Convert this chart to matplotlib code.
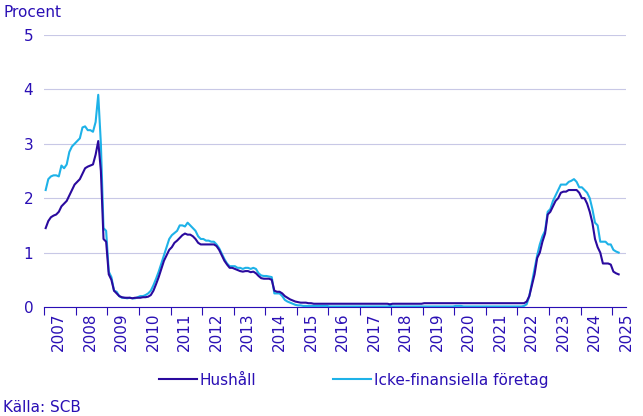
import matplotlib
matplotlib.use("Agg")
import matplotlib.pyplot as plt
import numpy as np

start_year = 2007
hushall = [
 1.45,1.58,1.65,1.68,1.70,1.75,1.85,1.90,1.95,2.05,2.15,2.25,   # 2007
 2.30,2.35,2.45,2.55,2.58,2.60,2.62,2.80,3.05,2.50,1.25,1.20,   # 2008
 0.60,0.50,0.30,0.25,0.20,0.18,0.17,0.17,0.17,0.16,0.17,0.17,   # 2009
 0.17,0.18,0.18,0.19,0.22,0.30,0.42,0.55,0.70,0.85,0.95,1.05,   # 2010
 1.10,1.18,1.22,1.27,1.32,1.35,1.33,1.33,1.30,1.25,1.18,1.15,   # 2011
 1.15,1.15,1.15,1.15,1.15,1.12,1.05,0.95,0.85,0.78,0.72,0.72,   # 2012
 0.70,0.68,0.66,0.65,0.66,0.66,0.64,0.65,0.62,0.57,0.53,0.52,   # 2013
 0.52,0.52,0.50,0.30,0.28,0.28,0.25,0.20,0.17,0.14,0.12,0.10,   # 2014
 0.09,0.08,0.08,0.08,0.07,0.07,0.06,0.06,0.06,0.06,0.06,0.06,   # 2015
 0.06,0.06,0.06,0.06,0.06,0.06,0.06,0.06,0.06,0.06,0.06,0.06,   # 2016
 0.06,0.06,0.06,0.06,0.06,0.06,0.06,0.06,0.06,0.06,0.06,0.05,   # 2017
 0.06,0.06,0.06,0.06,0.06,0.06,0.06,0.06,0.06,0.06,0.06,0.06,   # 2018
 0.07,0.07,0.07,0.07,0.07,0.07,0.07,0.07,0.07,0.07,0.07,0.07,   # 2019
 0.07,0.07,0.07,0.07,0.07,0.07,0.07,0.07,0.07,0.07,0.07,0.07,   # 2020
 0.07,0.07,0.07,0.07,0.07,0.07,0.07,0.07,0.07,0.07,0.07,0.07,   # 2021
 0.07,0.07,0.07,0.10,0.20,0.40,0.60,0.90,1.00,1.20,1.35,1.70,   # 2022
 1.75,1.85,1.95,2.00,2.10,2.12,2.12,2.15,2.15,2.15,2.15,2.10,   # 2023
 2.00,2.00,1.90,1.75,1.55,1.25,1.10,1.00,0.80,0.80,0.80,0.78,   # 2024
 0.65,0.62,0.60,                                               # 2025
]
icke = [
 2.15,2.35,2.40,2.42,2.42,2.40,2.60,2.55,2.62,2.85,2.95,3.00,   # 2007
 3.05,3.10,3.30,3.32,3.25,3.25,3.22,3.40,3.90,3.00,1.45,1.40,   # 2008
 0.65,0.55,0.30,0.28,0.20,0.17,0.17,0.16,0.17,0.16,0.16,0.18,   # 2009
 0.20,0.20,0.22,0.25,0.30,0.40,0.52,0.65,0.80,0.95,1.10,1.25,   # 2010
 1.32,1.36,1.40,1.50,1.50,1.48,1.55,1.50,1.45,1.40,1.30,1.25,   # 2011
 1.25,1.22,1.22,1.20,1.20,1.15,1.08,0.98,0.88,0.80,0.75,0.75,   # 2012
 0.75,0.72,0.72,0.70,0.72,0.72,0.70,0.72,0.70,0.62,0.58,0.57,   # 2013
 0.57,0.56,0.55,0.25,0.25,0.25,0.20,0.13,0.10,0.08,0.06,0.04,   # 2014
 0.03,0.03,0.02,0.02,0.02,0.02,0.02,0.02,0.02,0.02,0.02,0.02,   # 2015
 0.01,0.01,0.01,0.01,0.01,0.01,0.01,0.01,0.01,0.01,0.01,0.01,   # 2016
 0.01,0.01,0.01,0.01,0.01,0.01,0.01,0.01,0.01,0.01,0.01,0.02,   # 2017
 0.01,0.01,0.01,0.01,0.01,0.01,0.01,0.01,0.01,0.01,0.01,0.01,   # 2018
 0.01,0.01,0.01,0.01,0.01,0.01,0.01,0.01,0.01,0.01,0.01,0.01,   # 2019
 0.02,0.02,0.02,0.01,0.01,0.01,0.01,0.01,0.01,0.01,0.01,0.01,   # 2020
 0.01,0.01,0.01,0.01,0.01,0.01,0.01,0.01,0.01,0.01,0.01,0.01,   # 2021
 0.01,0.01,0.02,0.05,0.20,0.45,0.70,0.95,1.15,1.30,1.40,1.75,   # 2022
 1.80,1.95,2.05,2.15,2.25,2.25,2.25,2.30,2.32,2.35,2.30,2.20,   # 2023
 2.20,2.15,2.10,2.00,1.80,1.55,1.50,1.20,1.20,1.20,1.15,1.15,   # 2024
 1.05,1.02,1.00,                                               # 2025
]
years = list(range(2007, 2026))
yticks = [0, 1, 2, 3, 4, 5]

txt = "#2a0fb5"
c_h = "#2a0a9e"
c_i = "#1eb2e8"

x_h = start_year + np.arange(len(hushall)) / 12 + 1/24
x_i = start_year + np.arange(len(icke)) / 12 + 1/24

fig = plt.figure(figsize=(6.43, 4.16), dpi=100)
ax = fig.add_axes([0.069, 0.262, 0.905, 0.654])
ax.plot(x_i, icke, color=c_i, lw=1.5, label="Icke-finansiella företag")
ax.plot(x_h, hushall, color=c_h, lw=1.5, label="Hushåll")
ax.set_xlim(2007, 2025.3)
ax.set_ylim(0, 5)
ax.set_yticks(yticks)
ax.set_yticklabels([str(v) for v in yticks], color=txt, fontsize=11)
ax.yaxis.grid(True, color="#c8c8e6", lw=0.8)
ax.set_axisbelow(True)
ax.tick_params(axis="y", length=0, pad=8)
ax.set_xticks(years)
ax.set_xticklabels([])
ax.set_xticks([y + 0.45 for y in years], minor=True)
ax.set_xticklabels([str(y) for y in years], minor=True, color=txt, fontsize=11)
ax.tick_params(axis="x", which="major", length=6, color=txt, direction="out")
ax.tick_params(axis="x", which="minor", length=0, pad=4, labelrotation=90)
for s in ["top", "right", "left"]:
    ax.spines[s].set_visible(False)
ax.spines["bottom"].set_color(txt)
fig.text(0.005, 0.96, "Procent", color=txt, fontsize=11)
fig.text(0.005, 0.01, "Källa: SCB", color=txt, fontsize=11)
h, l = ax.get_legend_handles_labels()
fig.legend(h[::-1], l[::-1], loc="lower center", bbox_to_anchor=(0.55, 0.035), ncol=2,
           frameon=False, fontsize=11, labelcolor=txt, handlelength=2.5, columnspacing=5,
           handletextpad=0.2)
fig.savefig("out.png", dpi=100)
